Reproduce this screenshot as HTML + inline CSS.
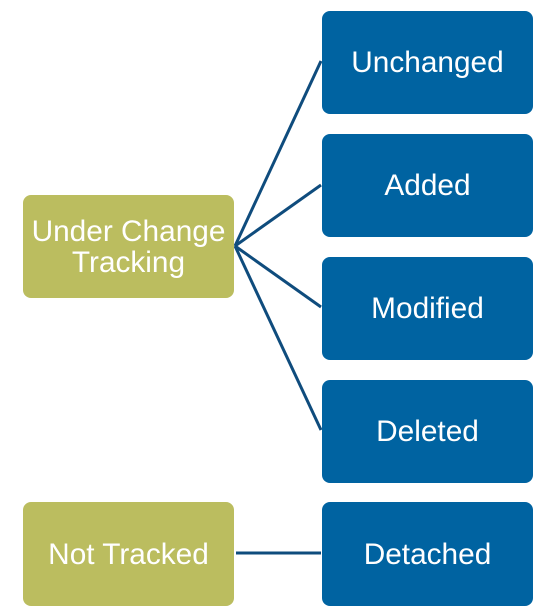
<!DOCTYPE html>
<html><head><meta charset="utf-8"><style>
body{margin:0;width:556px;height:613px;background:#fff;overflow:hidden;position:relative;font-family:"Liberation Sans",sans-serif}
.b{position:absolute;border-radius:8px;color:#fff;font-size:29.8px;display:flex;align-items:center;justify-content:center;text-align:center;line-height:31px}
.bl{background:#0063a1;left:322px;width:211px;height:103px}
.g{background:#bbbd5f;left:23px;width:211px;height:103px}
svg{position:absolute;left:0;top:0}
</style></head><body>
<svg width="556" height="613"><g stroke="#0f4c7d" stroke-width="3" fill="none">
<line x1="235" y1="246" x2="321" y2="61"/>
<line x1="235" y1="246" x2="321" y2="185"/>
<line x1="235" y1="246" x2="321" y2="307"/>
<line x1="235" y1="246" x2="321" y2="430"/>
<line x1="236" y1="553" x2="321" y2="553"/>
</g></svg>
<div class="b bl" style="top:11px">Unchanged</div>
<div class="b bl" style="top:134px">Added</div>
<div class="b bl" style="top:257px">Modified</div>
<div class="b bl" style="top:380px">Deleted</div>
<div class="b bl" style="top:502px;height:104px">Detached</div>
<div class="b g" style="top:195px">Under Change<br>Tracking</div>
<div class="b g" style="top:502px;height:104px">Not Tracked</div>
</body></html>
